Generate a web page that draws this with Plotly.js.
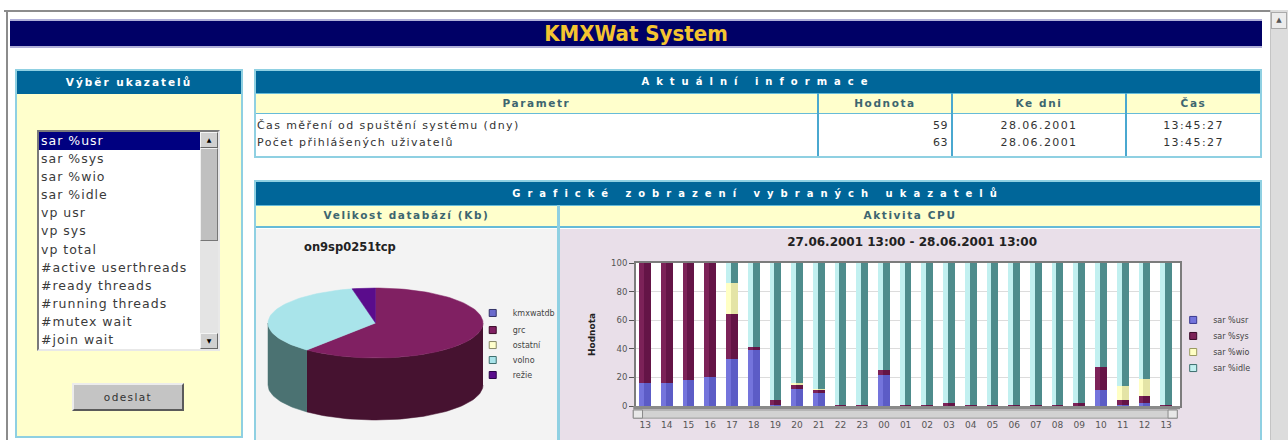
<!DOCTYPE html>
<html>
<head>
<meta charset="utf-8">
<script src="https://cdn.plot.ly/plotly-3.0.1.min.js"></script>
<style>
html,body{margin:0;padding:0;width:1288px;height:440px;overflow:hidden;background:#fff;font-family:"DejaVu Sans",Verdana,sans-serif;}
.a{position:absolute;box-sizing:border-box;}
.hdr{background:#006699;color:#fff;font-weight:bold;text-align:center;}
.sub{background:#ffffcc;color:#3d6670;font-weight:bold;font-size:10.5px;letter-spacing:1.6px;text-align:center;line-height:19px;}
.cell{font-size:11px;color:#333;line-height:17px;letter-spacing:1.4px;white-space:nowrap;}
.vl{background:#4aa8d0;width:2px;}
</style>
</head>
<body>
<!-- window frame -->
<div class="a" style="left:4px;top:10px;width:1266px;height:2px;background:#8c8c8c;"></div>
<div class="a" style="left:6px;top:10px;width:2px;height:430px;background:#8c8c8c;"></div>
<div class="a" style="left:1270px;top:10px;width:18px;height:430px;background:#dcdcdc;border-left:1px solid #c4c4c4;"></div>
<div class="a" style="left:1271px;top:12px;width:16px;height:17px;background:#ececec;border:1px solid #aaa;font-size:7px;text-align:center;line-height:14px;color:#555;">&#9650;</div>

<!-- title bar -->
<div class="a" style="left:10px;top:19px;width:1252px;height:29px;background:#000066;border-top:2px solid #b0b0d8;border-bottom:2px solid #b0b0d8;color:#f4c430;font-family:'DejaVu Sans Condensed','DejaVu Sans',sans-serif;font-weight:bold;font-size:22px;text-align:center;line-height:25px;">KMXWat System</div>

<!-- left panel -->
<div class="a" style="left:15px;top:69px;width:228px;height:369px;border:2px solid #8fd0e2;background:#ffffcc;"></div>
<div class="a hdr" style="left:17px;top:71px;width:224px;height:23px;font-size:10.5px;letter-spacing:2px;line-height:23px;">Výběr ukazatelů</div>
<div class="a" style="left:37px;top:130px;width:183px;height:221px;background:#fff;border-top:2px solid #7a7a7a;border-left:2px solid #7a7a7a;border-bottom:2px solid #e8e8e8;border-right:2px solid #e8e8e8;"></div>
<div id="listItems" class="a" style="left:39px;top:132px;width:161px;height:217px;overflow:hidden;font-size:12.5px;letter-spacing:1px;color:#3a3a3a;line-height:18.1px;"></div>
<div class="a" style="left:200px;top:132px;width:18px;height:217px;background:#e4e4e4;"></div>
<div class="a" style="left:200px;top:132px;width:18px;height:16px;background:#d0d0d0;border:1px solid;border-color:#f4f4f4 #666 #666 #f4f4f4;font-size:6px;text-align:center;line-height:14px;color:#000;">&#9650;</div>
<div class="a" style="left:200px;top:148px;width:18px;height:93px;background:#c0c0c0;border:1px solid;border-color:#f0f0f0 #777 #777 #f0f0f0;"></div>
<div class="a" style="left:200px;top:333px;width:18px;height:16px;background:#d0d0d0;border:1px solid;border-color:#f4f4f4 #666 #666 #f4f4f4;font-size:6px;text-align:center;line-height:14px;color:#000;">&#9660;</div>
<div class="a" style="left:72px;top:383px;width:112px;height:28px;background:#c4c4c4;border:2px solid;border-color:#ececec #5a5a5a #5a5a5a #ececec;font-size:10.5px;letter-spacing:1.4px;color:#333;text-align:center;line-height:24px;">odeslat</div>

<!-- info panel -->
<div class="a" style="left:254px;top:69px;width:1008px;height:89px;border:2px solid #8fd0e2;background:#fff;"></div>
<div class="a hdr" style="left:256px;top:71px;width:1004px;height:22px;font-size:10px;line-height:22px;letter-spacing:7px;">Aktuální informace</div>
<div class="a sub" style="left:256px;top:93px;width:1004px;height:21px;border-top:1px solid #66bbd8;border-bottom:2px solid #66bbd8;"></div>
<div class="a sub" style="left:256px;top:94px;width:561px;height:19px;">Parametr</div>
<div class="a sub" style="left:819px;top:94px;width:132px;height:19px;">Hodnota</div>
<div class="a sub" style="left:953px;top:94px;width:172px;height:19px;">Ke dni</div>
<div class="a sub" style="left:1127px;top:94px;width:133px;height:19px;">Čas</div>
<div class="a vl" style="left:817px;top:93px;height:63px;"></div>
<div class="a vl" style="left:951px;top:93px;height:63px;"></div>
<div class="a vl" style="left:1125px;top:93px;height:63px;"></div>
<div class="a cell" style="left:257px;top:117px;">Čas měření od spuštění systému (dny)</div>
<div class="a cell" style="left:257px;top:134px;">Počet přihlášených uživatelů</div>
<div class="a cell" style="left:819px;top:117px;width:129px;text-align:right;letter-spacing:0.5px;">59</div>
<div class="a cell" style="left:819px;top:134px;width:129px;text-align:right;letter-spacing:0.5px;">63</div>
<div class="a cell" style="left:953px;top:117px;width:172px;text-align:center;">28.06.2001</div>
<div class="a cell" style="left:953px;top:134px;width:172px;text-align:center;">28.06.2001</div>
<div class="a cell" style="left:1127px;top:117px;width:133px;text-align:center;">13:45:27</div>
<div class="a cell" style="left:1127px;top:134px;width:133px;text-align:center;">13:45:27</div>

<!-- graph panel -->
<div class="a" style="left:254px;top:180px;width:1008px;height:270px;border:2px solid #8fd0e2;background:#fff;"></div>
<div class="a hdr" style="left:256px;top:182px;width:1004px;height:23px;font-size:10px;line-height:23px;letter-spacing:7px;">Grafické zobrazení vybraných ukazatelů</div>
<div class="a sub" style="left:256px;top:205px;width:1004px;height:23px;border-top:1px solid #66bbd8;border-bottom:2px solid #66bbd8;"></div>
<div class="a sub" style="left:256px;top:206px;width:301px;height:20px;">Velikost databází (Kb)</div>
<div class="a sub" style="left:560px;top:206px;width:700px;height:20px;">Aktivita CPU</div>
<div class="a vl" style="left:557px;top:205px;height:240px;width:3px;background:#8fd0e2;"></div>
<div id="pie" class="a" style="left:256px;top:229px;width:301px;height:211px;"></div>
<div id="bars" class="a" style="left:560px;top:229px;width:700px;height:211px;"></div>

<script>
// ---------------- data ----------------
const listOptions = ['sar %usr','sar %sys','sar %wio','sar %idle','vp usr','vp sys','vp total',
  '#active userthreads','#ready threads','#running threads','#mutex wait','#join wait'];

const hours = ['13','14','15','16','17','18','19','20','21','22','23','00','01','02','03','04','05','06','07','08','09','10','11','12','13'];
const sarUsr  = [16,16,18,20,33,39, 1,12, 9, 0, 0,22, 0, 0, 0, 0, 0, 0, 0, 0, 0,11, 1, 2, 0];
const sarSys  = [84,84,82,80,31, 2, 3, 3, 2, 1, 1, 3, 1, 1, 2, 1, 1, 1, 1, 1, 2,16, 3, 5, 1];
const sarWio  = [ 0, 0, 0, 0,22, 0, 0, 1, 1, 0, 0, 0, 0, 0, 0, 0, 0, 0, 0, 0, 0, 0,10,12, 0];
const sarIdle = [ 0, 0, 0, 0,14,59,96,84,88,99,99,75,99,99,98,99,99,99,99,99,98,73,86,81,99];
const cpuSeries = ['sar %usr','sar %sys','sar %wio','sar %idle'];

const dbNames = ['kmxwatdb','grc','ostatní','volno','režie'];
const dbSizes = [0, 610, 0, 355, 35];

// ---------------- styles ----------------
const FRONT = ['#7474dc','#7c2258','#ffffc4','#c2f0f0'];
const SIDE  = ['#5c5cc6','#641446','#e4e4a6','#4e8c8c'];
const EDGE  = ['#3a3a90','#3a0a28','#9a9a60','#3c6e6e'];
const PIE_TOP  = ['#6a6acc','#802062','#ffffcc','#a9e4ea','#5a0c8c'];
const PIE_SIDE = ['#44448a','#461230','#c8c89a','#4b7272','#380660'];
const PIE_EDGE = ['#333366','#3a0a28','#888866','#3c6e6e','#2a0448'];

// list box
const lb = document.getElementById('listItems');
listOptions.forEach((t, i) => {
  const d = document.createElement('div');
  d.textContent = t;
  d.style.paddingLeft = '2px';
  d.style.whiteSpace = 'nowrap';
  if (i === 0) { d.style.background = '#000080'; d.style.color = '#fff'; }
  lb.appendChild(d);
});

const cfg = {staticPlot: true, displayModeBar: false};
const FONT = 'DejaVu Sans, Verdana, sans-serif';

// ---------------- stacked bar chart ----------------
const xs = hours.map((_, i) => i);
const series = [sarUsr, sarSys, sarWio, sarIdle];
let cum = hours.map(() => 0);
const barTraces = [];
series.forEach((vals, k) => {
  const base = cum.slice();
  const yv = vals.map(v => (v > 0 ? v : null));
  barTraces.push({type: 'bar', x: xs, y: yv, base: base, offset: -0.27, width: 0.22,
    marker: {color: FRONT[k], line: {width: 0}}, showlegend: false, hoverinfo: 'skip'});
  barTraces.push({type: 'bar', x: xs, y: yv, base: base, offset: -0.05, width: 0.32,
    marker: {color: SIDE[k], line: {width: 0}}, showlegend: false, hoverinfo: 'skip'});
  cum = cum.map((c, i) => c + vals[i]);
});
const barLegendY = [0.569, 0.493, 0.417, 0.341];
const barLegends = {};
cpuSeries.forEach((n, k) => {
  const key = k === 0 ? 'legend' : 'legend' + (k + 1);
  barTraces.push({type: 'scatter', mode: 'markers', x: [null], y: [null], name: n, legend: key,
    marker: {symbol: 'square', size: 7, color: FRONT[k], line: {width: 1, color: EDGE[k]}}});
  barLegends[key] = {xref: 'container', yref: 'container', x: 0.876, y: barLegendY[k], xanchor: 'left', yanchor: 'middle',
    bgcolor: 'rgba(0,0,0,0)', borderwidth: 0, font: {size: 8, family: 'DejaVu Sans', color: '#444'}};
});

const barLayout = Object.assign({
  width: 700, height: 211,
  margin: {l: 76, r: 80, t: 34, b: 34.3, autoexpand: false},
  paper_bgcolor: '#e9dfe9', plot_bgcolor: '#ffffff',
  barmode: 'overlay', bargap: 0,
  title: {text: '27.06.2001 13:00 - 28.06.2001 13:00', x: 0.503, xanchor: 'center', y: 0.938, yanchor: 'middle',
    font: {family: FONT, size: 12, color: '#222', weight: 'bold'}},
  xaxis: {range: [-0.42, 24.64], tickmode: 'array', tickvals: xs, ticktext: hours,
    ticks: 'outside', ticklen: 9, tickcolor: 'rgba(0,0,0,0)', showgrid: false, zeroline: false,
    showline: true, mirror: true, linecolor: '#7c7c7c', linewidth: 2,
    tickfont: {family: FONT, size: 9, color: '#555'}, fixedrange: true},
  yaxis: {range: [0, 100], tickvals: [0, 20, 40, 60, 80, 100], ticks: 'outside', ticklen: 5, tickcolor: '#555',
    showgrid: true, gridcolor: '#dcdcdc', zeroline: false,
    showline: true, mirror: true, linecolor: '#7c7c7c', linewidth: 2,
    tickfont: {family: FONT, size: 8.5, color: '#555'},
    title: {text: 'Hodnota', standoff: 14, font: {family: FONT, size: 9, color: '#222', weight: 'bold'}}, fixedrange: true},
  shapes: [
    {type: 'rect', xref: 'paper', yref: 'paper', x0: -0.005, x1: 1.0, y0: -0.022, y1: 0.0, fillcolor: '#8a8a8a', line: {width: 0}},
    {type: 'rect', xref: 'paper', yref: 'paper', x0: -0.005, x1: 0.995, y0: -0.085, y1: -0.028, fillcolor: '#d2d2d2', line: {width: 1, color: '#9a9a9a'}},
    {type: 'rect', xref: 'paper', yref: 'paper', x0: -0.005, x1: 0.012, y0: -0.085, y1: -0.028, fillcolor: '#e8e8e8', line: {width: 1, color: '#8a8a8a'}},
    {type: 'rect', xref: 'paper', yref: 'paper', x0: 0.978, x1: 0.995, y0: -0.085, y1: -0.028, fillcolor: '#e8e8e8', line: {width: 1, color: '#8a8a8a'}}
  ]
}, barLegends);
Plotly.newPlot('bars', barTraces, barLayout, cfg);

// ---------------- 3D pie (database sizes) ----------------
const PW = 301, PH = 211;
const geo = {cx: 119.5, cy: 94, rx: 107.5, ry: 35, depth: 62};
const total = dbSizes.reduce((a, b) => a + b, 0);
const ept = (deg, dy) => {
  const r = deg * Math.PI / 180;
  return [geo.cx + geo.rx * Math.sin(r), geo.cy - geo.ry * Math.cos(r) + (dy || 0)];
};
const arc = (a, b, dy) => {
  const pts = [];
  const n = Math.max(2, Math.ceil(Math.abs(b - a) / 2));
  for (let i = 0; i <= n; i++) pts.push(ept(a + (b - a) * i / n, dy));
  return pts;
};
const pieTraces = [];
const topTraces = [];
let acc = 0;
dbSizes.forEach((v, k) => {
  const a = acc / total * 360;
  acc += v;
  const b = acc / total * 360;
  if (v <= 0) return;
  const s0 = Math.max(a, 90), s1 = Math.min(b, 270);
  if (s1 > s0) {
    const pts = arc(s0, s1, 0).concat(arc(s1, s0, geo.depth));
    pieTraces.push({type: 'scatter', mode: 'lines', fill: 'toself', x: pts.map(p => p[0]), y: pts.map(p => p[1]),
      fillcolor: PIE_SIDE[k], line: {width: 0.5, color: PIE_SIDE[k]}, showlegend: false, hoverinfo: 'skip'});
  }
  const tp = [[geo.cx, geo.cy]].concat(arc(a, b, 0)).concat([[geo.cx, geo.cy]]);
  topTraces.push({type: 'scatter', mode: 'lines', fill: 'toself', x: tp.map(p => p[0]), y: tp.map(p => p[1]),
    fillcolor: PIE_TOP[k], line: {width: 0.5, color: PIE_TOP[k]}, showlegend: false, hoverinfo: 'skip'});
});
const pieAll = pieTraces.concat(topTraces);
const pieLegendY = [0.602, 0.521, 0.450, 0.379, 0.308];
const pieLegends = {};
dbNames.forEach((n, k) => {
  const key = k === 0 ? 'legend' : 'legend' + (k + 1);
  pieAll.push({type: 'scatter', mode: 'markers', x: [null], y: [null], name: n, legend: key,
    marker: {symbol: 'square', size: 7, color: PIE_TOP[k], line: {width: 1, color: PIE_EDGE[k]}}});
  pieLegends[key] = {x: 0.72, y: pieLegendY[k], xanchor: 'left', yanchor: 'middle',
    bgcolor: 'rgba(0,0,0,0)', borderwidth: 0, font: {size: 8, family: 'DejaVu Sans', color: '#444'}};
});
const pieLayout = Object.assign({
  width: PW, height: PH, margin: {l: 0, r: 0, t: 0, b: 0, autoexpand: false},
  paper_bgcolor: '#f3f3f3', plot_bgcolor: 'rgba(0,0,0,0)',
  title: {text: 'on9sp0251tcp', x: 0.312, xanchor: 'center', y: 0.915, yanchor: 'middle',
    font: {family: FONT, size: 11.5, color: '#222', weight: 'bold'}},
  xaxis: {range: [0, PW], visible: false, fixedrange: true},
  yaxis: {range: [PH, 0], visible: false, fixedrange: true}
}, pieLegends);
Plotly.newPlot('pie', pieAll, pieLayout, cfg);
</script>
</body>
</html>
